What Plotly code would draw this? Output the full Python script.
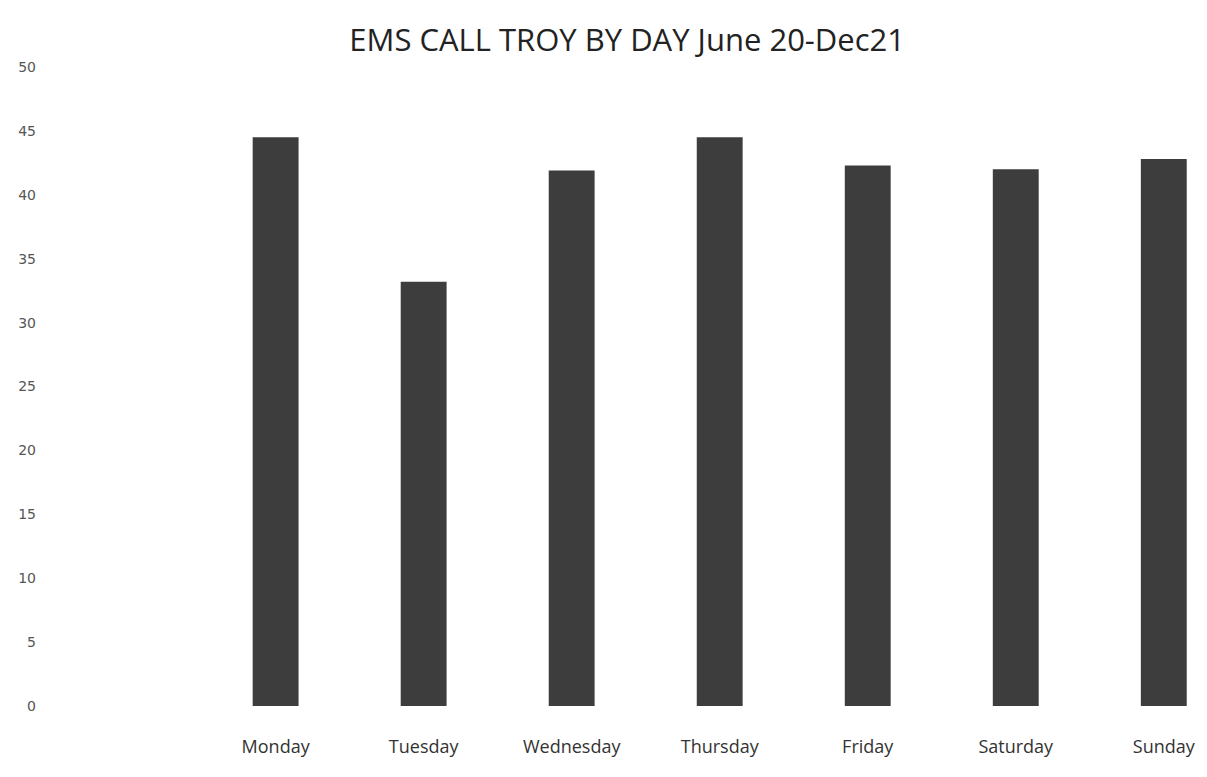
import plotly.graph_objects as go

days = ["Monday", "Tuesday", "Wednesday", "Thursday", "Friday", "Saturday", "Sunday"]
calls = [44.5, 33.2, 41.9, 44.5, 42.3, 42.0, 42.8]
y_ticks = [0, 5, 10, 15, 20, 25, 30, 35, 40, 45, 50]

fig = go.Figure(
    go.Bar(
        x=days,
        y=calls,
        marker=dict(color="#3d3d3d", line=dict(width=0)),
    )
)

fig.update_layout(
    width=1207,
    height=777,
    paper_bgcolor="white",
    plot_bgcolor="white",
    bargap=0.69,
    showlegend=False,
    margin=dict(l=37, r=0, t=59, b=79),
    title=dict(
        text="EMS CALL TROY BY DAY June 20-Dec21",
        x=0.513,
        xanchor="center",
        y=0.958,
        yanchor="middle",
        font=dict(family="Open Sans", size=31, color="#222222"),
    ),
    xaxis=dict(
        type="category",
        range=[-1.558, 6.346],
        showgrid=False,
        showline=False,
        zeroline=False,
        ticks="",
        ticklabelstandoff=28,
        tickfont=dict(family="Open Sans", size=18, color="#333333"),
    ),
    yaxis=dict(
        range=[0, 50],
        tickvals=y_ticks,
        showgrid=False,
        showline=False,
        zeroline=False,
        ticks="",
        ticklabelstandoff=8,
        tickfont=dict(family="DejaVu Sans", size=14, color="#555555"),
    ),
)

fig.write_html("out.html")
